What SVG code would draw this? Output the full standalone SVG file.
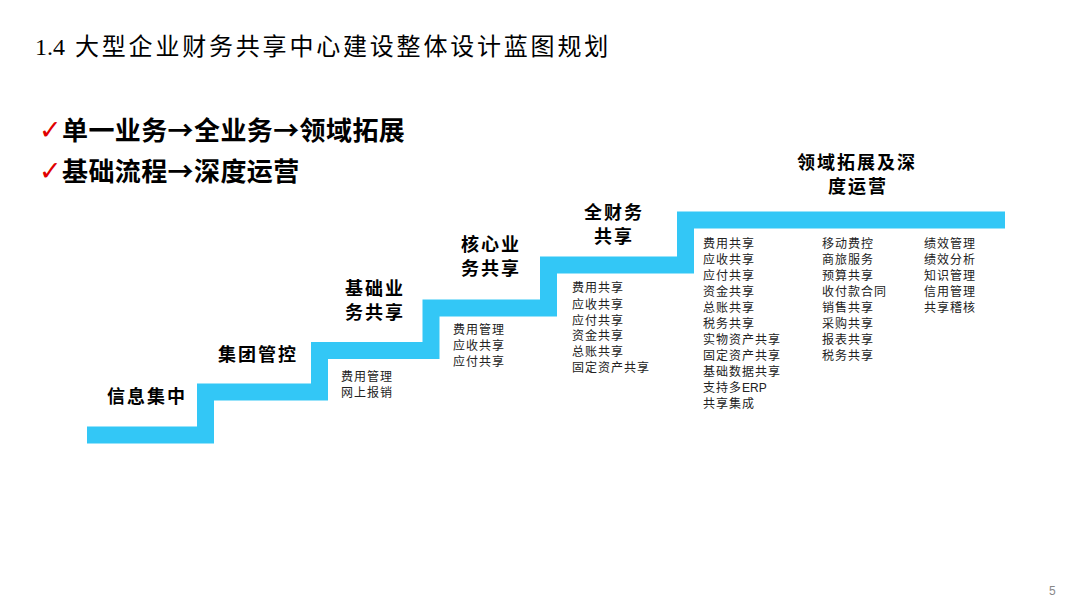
<svg xmlns="http://www.w3.org/2000/svg" width="1080" height="608" viewBox="0 0 1080 608">
<style>
.t{font-family:"Liberation Serif","Noto Sans CJK SC",serif;fill:#000}
.title{font-size:24px}
.bul{font-family:"Noto Sans CJK SC","Liberation Sans",sans-serif;font-size:26px;font-weight:bold;fill:#000;letter-spacing:0.4px}
.chk{font-family:"DejaVu Sans",sans-serif;font-size:27px;font-weight:bold;fill:#E00000}
.lbl{font-size:18px;font-weight:bold;letter-spacing:2px}
.sm{font-size:12px;letter-spacing:1px;fill:#222}
.stair{fill:none;stroke:#33C7F6;stroke-width:17;stroke-linejoin:miter}
.pg{font-family:"Liberation Sans",sans-serif;font-size:12px;fill:#888}
.lat{font-family:"Liberation Sans",sans-serif;letter-spacing:0}
</style>
<rect width="1080" height="608" fill="#fff"/>
<g id="title"><text class="t title" x="35" y="55">1.4<tspan x="75" letter-spacing="2.8">大型企业财务共享中心建设整体设计蓝图规划</tspan></text></g>
<g id="bullets">
<text class="chk" x="39" y="139">✓</text>
<text class="bul" x="62" y="140">单一业务→全业务→领域拓展</text>
<text class="chk" x="39" y="180">✓</text>
<text class="bul" x="62" y="181">基础流程→深度运营</text>
</g>
<g id="staircase">
<path class="stair" d="M87,435 H205.5 V392 H319.5 V350.5 H431 V308 H548.5 V265 H685.5 V220 H1005"/>
</g>
<g id="step1"><text class="t lbl" x="107" y="403">信息集中</text></g>
<g id="step2"><text class="t lbl" x="218" y="361">集团管控</text></g>
<g id="step3">
<text class="t lbl" x="345" y="295">基础业</text>
<text class="t lbl" x="345" y="319">务共享</text>
<text class="t sm" x="341" y="381">费用管理</text>
<text class="t sm" x="341" y="397">网上报销</text>
</g>
<g id="step4">
<text class="t lbl" x="461" y="251">核心业</text>
<text class="t lbl" x="461" y="275">务共享</text>
<text class="t sm" x="453" y="334">费用管理</text>
<text class="t sm" x="453" y="350">应收共享</text>
<text class="t sm" x="453" y="366">应付共享</text>
</g>
<g id="step5">
<text class="t lbl" x="584" y="219">全财务</text>
<text class="t lbl" x="594" y="243">共享</text>
<text class="t sm" x="572" y="292">费用共享</text>
<text class="t sm" x="572" y="309">应收共享</text>
<text class="t sm" x="572" y="325">应付共享</text>
<text class="t sm" x="572" y="340">资金共享</text>
<text class="t sm" x="572" y="356">总账共享</text>
<text class="t sm" x="572" y="372">固定资产共享</text>
</g>
<g id="step6">
<text class="t lbl" x="797" y="169">领域拓展及深</text>
<text class="t lbl" x="828" y="193">度运营</text>
<g id="col1">
<text class="t sm" x="703" y="248">费用共享</text>
<text class="t sm" x="703" y="264">应收共享</text>
<text class="t sm" x="703" y="280">应付共享</text>
<text class="t sm" x="703" y="296">资金共享</text>
<text class="t sm" x="703" y="312">总账共享</text>
<text class="t sm" x="703" y="328">税务共享</text>
<text class="t sm" x="703" y="344">实物资产共享</text>
<text class="t sm" x="703" y="360">固定资产共享</text>
<text class="t sm" x="703" y="376">基础数据共享</text>
<text class="t sm" x="703" y="392">支持多<tspan class="lat">ERP</tspan></text>
<text class="t sm" x="703" y="408">共享集成</text>
</g>
<g id="col2">
<text class="t sm" x="822" y="248">移动费控</text>
<text class="t sm" x="822" y="264">商旅服务</text>
<text class="t sm" x="822" y="280">预算共享</text>
<text class="t sm" x="822" y="296">收付款合同</text>
<text class="t sm" x="822" y="312">销售共享</text>
<text class="t sm" x="822" y="328">采购共享</text>
<text class="t sm" x="822" y="344">报表共享</text>
<text class="t sm" x="822" y="360">税务共享</text>
</g>
<g id="col3">
<text class="t sm" x="924" y="248">绩效管理</text>
<text class="t sm" x="924" y="264">绩效分析</text>
<text class="t sm" x="924" y="280">知识管理</text>
<text class="t sm" x="924" y="296">信用管理</text>
<text class="t sm" x="924" y="312">共享稽核</text>
</g>
</g>
<g id="page"><text class="pg" x="1049" y="595">5</text></g>
</svg>
